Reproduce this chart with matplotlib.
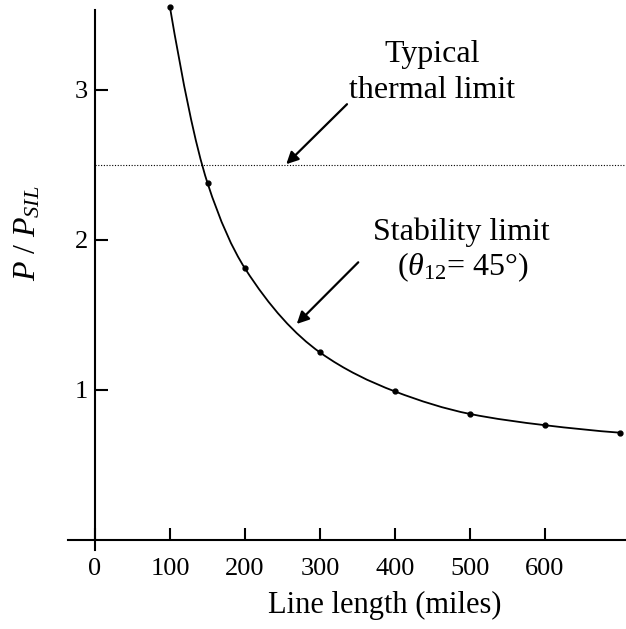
import matplotlib.pyplot as plt
import numpy as np
from matplotlib.path import Path
from matplotlib.patches import PathPatch

plt.rcParams['font.family'] = ['Liberation Serif', 'DejaVu Serif']
plt.rcParams['mathtext.fontset'] = 'custom'
plt.rcParams['mathtext.rm'] = 'Liberation Serif'
plt.rcParams['mathtext.it'] = 'Liberation Serif:italic'

# data
line_length = [100, 150, 200, 300, 400, 500, 600, 700]
p_ratio = [3.55, 2.38, 1.81, 1.25, 0.99, 0.84, 0.765, 0.715]
thermal_limit = 2.5
x_ticks = [0, 100, 200, 300, 400, 500, 600]
y_ticks = [1, 2, 3]

fig = plt.figure(figsize=(6.26, 6.29), dpi=100)
ax = fig.add_axes([68 / 626, 79 / 629, 558 / 626, 546 / 629])
ax.set_xlim(-36, 708)
ax.set_ylim(-0.067, 3.573)

for s in ['top', 'right']:
    ax.spines[s].set_visible(False)
ax.spines['left'].set_position(('data', 0))
ax.spines['bottom'].set_position(('data', 0))
ax.spines['left'].set_bounds(-0.067, 3.53)
ax.spines['left'].set_linewidth(1.5)
ax.spines['bottom'].set_linewidth(1.5)

ax.set_xticks(x_ticks)
ax.set_yticks(y_ticks)
ax.set_xticklabels([str(v) for v in x_ticks])
ax.set_yticklabels([str(v) for v in y_ticks])
ax.tick_params(axis='both', direction='in', length=9, width=1.5, labelsize=19)
ax.tick_params(axis='x', pad=13)
ax.tick_params(axis='y', pad=5)

# smooth curve through the points: pchip-style hermite segments drawn as bezier
x = np.array(line_length, dtype=float)
y = np.array(p_ratio)
h = np.diff(x)
d = np.diff(y) / h
m = np.zeros_like(y)
m[0] = ((2 * h[0] + h[1]) * d[0] - h[0] * d[1]) / (h[0] + h[1])
m[-1] = ((2 * h[-1] + h[-2]) * d[-1] - h[-1] * d[-2]) / (h[-1] + h[-2])
for i in range(1, len(x) - 1):
    w1 = 2 * h[i] + h[i - 1]
    w2 = h[i] + 2 * h[i - 1]
    m[i] = (w1 + w2) / (w1 / d[i - 1] + w2 / d[i])
verts = [(x[0], y[0])]
codes = [Path.MOVETO]
for i in range(len(x) - 1):
    verts += [(x[i] + h[i] / 3, y[i] + m[i] * h[i] / 3),
              (x[i + 1] - h[i] / 3, y[i + 1] - m[i + 1] * h[i] / 3),
              (x[i + 1], y[i + 1])]
    codes += [Path.CURVE4] * 3
ax.add_patch(PathPatch(Path(verts, codes), facecolor='none', edgecolor='black',
                       lw=1.3, clip_on=False))
ax.plot(line_length, p_ratio, 'o', color='black', markersize=3.5, clip_on=False)

ax.hlines(thermal_limit, 0, 708, colors='black', linestyles=(0, (1, 1.5)), lw=0.8)

arrow = dict(arrowstyle='-|>', color='black', lw=1.6, mutation_scale=18,
             shrinkA=0, shrinkB=0)
ax.annotate('', xy=(255, 2.505), xytext=(336, 2.905), arrowprops=arrow)
ax.annotate('', xy=(269, 1.44), xytext=(351, 1.851), arrowprops=arrow)

ax.text(450, 3.187, 'Typical', fontsize=23, ha='center', va='baseline')
ax.text(449, 2.947, 'thermal limit', fontsize=23, ha='center', va='baseline')
ax.text(489, 2.0, 'Stability limit', fontsize=23, ha='center', va='baseline')
ax.text(490, 1.767, r'($\theta_{\rm 12}$= 45°)', fontsize=23, ha='center', va='baseline')

ax.set_xlabel('Line length (miles)', fontsize=22)
ax.xaxis.set_label_coords(0.567, -0.075)
ax.set_ylabel(r'$P\ /\ P_{SIL}$', fontsize=23)
ax.yaxis.set_label_coords(-0.045, 0.581)

fig.savefig('out.png', dpi=100)
